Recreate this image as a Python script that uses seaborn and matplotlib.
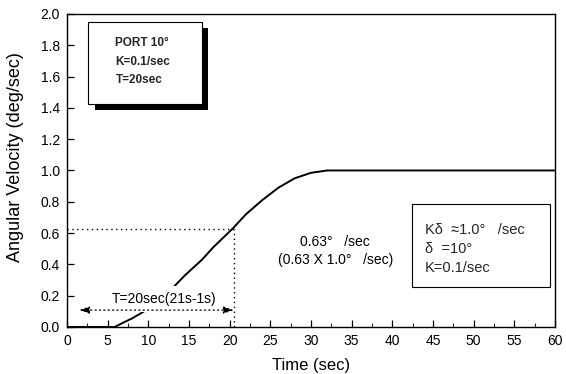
import matplotlib
matplotlib.use("Agg")
import matplotlib.pyplot as plt
from matplotlib.ticker import MultipleLocator
from matplotlib.patches import Rectangle
import pandas as pd
import seaborn as sns

# Yaw-rate step response of the ship (port rudder 10 deg)
time_s = [0, 5.85, 7.0, 8.0, 9.0, 10.1, 13.1, 14.5, 16.6, 18.0, 20.4, 22.0, 24.0, 26.0, 28.0, 30.0, 32.0, 35.0, 60.0]
ang_vel = [0.0, 0.0, 0.03, 0.055, 0.085, 0.12, 0.255, 0.33, 0.43, 0.51, 0.63, 0.72, 0.81, 0.89, 0.95, 0.985, 1.0, 1.0, 1.0]

# Time-constant markers
tc_time = 20.5
tc_value = 0.625
span_start = 1.5
span_level = 0.108

x_ticks = list(range(0, 61, 5))
y_ticks = [0.0, 0.2, 0.4, 0.6, 0.8, 1.0, 1.2, 1.4, 1.6, 1.8, 2.0]

sns.set_theme(style="ticks")
plt.rcParams["font.family"] = ["Liberation Sans", "DejaVu Sans"]

df = pd.DataFrame({"Time (sec)": time_s, "Angular Velocity (deg/sec)": ang_vel})

fig = plt.figure(figsize=(5.66, 3.74), dpi=100)
ax = fig.add_axes([0.1184, 0.1257, 0.862, 0.837])

sns.lineplot(data=df, x="Time (sec)", y="Angular Velocity (deg/sec)", ax=ax,
             color="black", linewidth=1.4, zorder=2)

ax.set_xlim(0, 60)
ax.set_ylim(0, 2.0)
ax.set_xticks(x_ticks)
ax.set_yticks(y_ticks)
ax.set_yticklabels([f"{v:.1f}" for v in y_ticks])
ax.xaxis.set_minor_locator(MultipleLocator(2.5))
ax.tick_params(axis="both", which="major", direction="in", length=5, width=0.9,
               labelsize=10, colors="black", pad=5)
ax.tick_params(axis="x", which="minor", direction="in", length=3, width=0.8, bottom=True)
ax.tick_params(top=False, right=False)
for s in ax.spines.values():
    s.set_visible(True)
    s.set_color("black")
    s.set_linewidth(1.0)

ax.set_xlabel("Time (sec)", fontsize=12, color="black", labelpad=7)
ax.set_ylabel("Angular Velocity (deg/sec)", fontsize=13, color="black")
ax.yaxis.set_label_coords(-0.089, 0.543)

# dotted guides at the time constant
ax.plot([0, tc_time], [tc_value, tc_value], color="black", linestyle=(0, (1, 2.5)),
        linewidth=1.0, zorder=1)
ax.plot([tc_time, tc_time], [0, tc_value], color="black", linestyle=(0, (1, 2.5)),
        linewidth=1.0, zorder=1)

# span label, white box hides the curve beneath it
ax.text(11.9, 0.178, "T=20sec(21s-1s)", ha="center", va="center", fontsize=10,
        color="black", zorder=3,
        bbox=dict(boxstyle="square,pad=0.45", facecolor="white", edgecolor="none"))
ax.annotate("", xy=(span_start, span_level), xytext=(tc_time, span_level),
            arrowprops=dict(arrowstyle="<|-|>,head_length=0.5,head_width=0.18",
                            color="black", linestyle=(0, (1, 2.5)), linewidth=0.9,
                            shrinkA=0, shrinkB=0),
            zorder=4)

ax.text(33.0, 0.545, "0.63°   /sec", ha="center", va="center", fontsize=10, color="black")
ax.text(33.0, 0.43, "(0.63 X 1.0°   /sec)", ha="center", va="center", fontsize=10,
        color="black")

# parameter box, lower right
ax.add_patch(Rectangle((42.4, 0.255), 17.0, 0.53, facecolor="white",
                       edgecolor="black", linewidth=0.8, zorder=3))
ax.text(44.0, 0.617, "Kδ  ≈1.0°   /sec", ha="left", va="center", fontsize=10.5, zorder=4)
ax.text(44.0, 0.50, "δ  =10°", ha="left", va="center", fontsize=10.5, zorder=4)
ax.text(44.0, 0.375, "K=0.1/sec", ha="left", va="center", fontsize=10.5, zorder=4)

# case box with drop shadow, upper left
box_x, box_y, box_w, box_h = 2.6, 1.425, 13.95, 0.525
ax.add_patch(Rectangle((box_x + 0.8, box_y - 0.04), box_w, box_h, facecolor="black",
                       edgecolor="none", zorder=3))
ax.add_patch(Rectangle((box_x, box_y), box_w, box_h, facecolor="white",
                       edgecolor="black", linewidth=0.8, zorder=4))
ax.text(5.95, 1.815, "PORT 10°", ha="left", va="center", fontsize=8.5,
        fontweight="bold", zorder=5)
ax.text(5.95, 1.69, "K=0.1/sec", ha="left", va="center", fontsize=8.5,
        fontweight="bold", zorder=5)
ax.text(5.95, 1.575, "T=20sec", ha="left", va="center", fontsize=8.5,
        fontweight="bold", zorder=5)

fig.savefig("out.png", dpi=100)
